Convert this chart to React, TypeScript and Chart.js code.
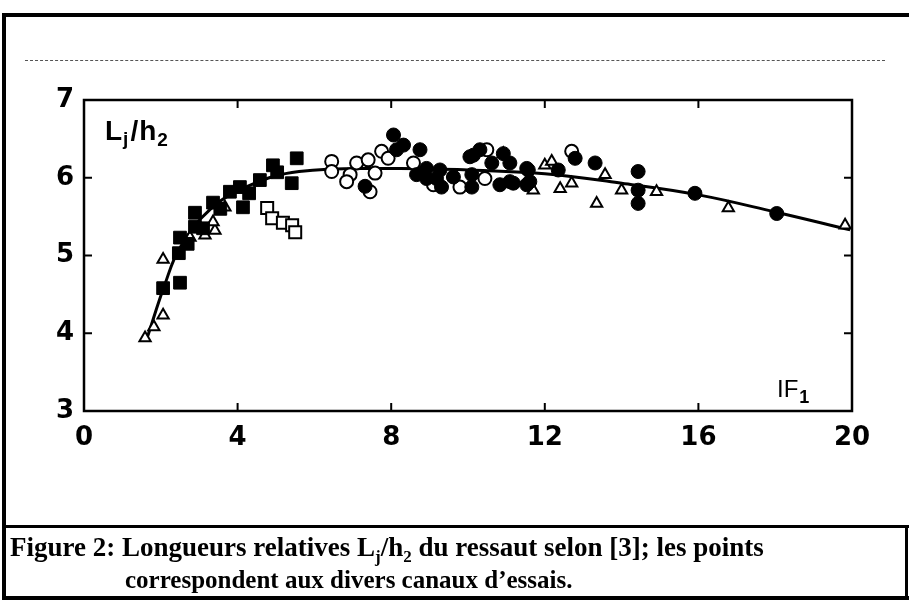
import React, { useEffect, useRef } from "react";
import { Chart, registerables } from "chart.js";
Chart.register(...registerables);

// ---- axis ticks ----
const X_MIN = 0, X_MAX = 20, X_STEP = 4;
const Y_MIN = 3, Y_MAX = 7, Y_STEP = 1;
const X_INNER_TICKS = [4, 8, 12, 16];
const Y_INNER_TICKS = [4, 5, 6];

// ---- fitted curve ----
const curveX = [1.65, 2.1, 2.5, 3.3, 4.3, 5.6, 8, 10, 12, 14, 16, 18, 19.95];
const curveY = [3.95, 4.62, 5.1, 5.6, 5.9, 6.08, 6.12, 6.1, 6.05, 5.93, 5.78, 5.56, 5.33];

// ---- open triangles ----
const triX = [1.59, 1.82, 2.06, 2.06, 2.76, 3.15, 3.41, 3.36, 3.67, 10.92, 12.0, 12.18, 11.7, 12.4, 12.7, 13.57, 13.35, 14.0, 14.91, 16.78, 19.82];
const triY = [3.94, 4.08, 4.23, 4.95, 5.23, 5.26, 5.32, 5.43, 5.62, 6.31, 6.16, 6.21, 5.84, 5.86, 5.93, 6.04, 5.67, 5.84, 5.82, 5.61, 5.39];

// ---- filled squares ----
const fsqX = [2.06, 2.5, 2.47, 2.5, 2.7, 2.89, 2.89, 3.1, 3.36, 3.55, 3.8, 4.06, 4.14, 4.3, 4.58, 4.92, 5.03, 5.41, 5.54];
const fsqY = [4.58, 4.65, 5.03, 5.23, 5.15, 5.37, 5.55, 5.35, 5.68, 5.6, 5.82, 5.88, 5.62, 5.8, 5.97, 6.16, 6.07, 5.93, 6.25];

// ---- open squares ----
const osqX = [4.77, 4.9, 5.18, 5.42, 5.5];
const osqY = [5.61, 5.48, 5.42, 5.39, 5.3];

// ---- open circles ----
const ocX = [6.45, 6.45, 7.1, 7.4, 6.93, 6.84, 7.58, 7.75, 7.92, 7.45, 8.58, 9.05, 9.1, 9.79, 10.44, 10.49, 12.7];
const ocY = [6.21, 6.08, 6.19, 6.23, 6.04, 5.95, 6.06, 6.34, 6.25, 5.82, 6.19, 6.04, 5.91, 5.88, 5.99, 6.36, 6.34];

// ---- filled circles ----
const fcX = [8.06, 8.32, 8.14, 8.75, 7.32, 8.66, 8.92, 8.92, 9.18, 9.27, 9.31, 9.62, 10.1, 10.14, 10.1, 10.05, 10.31, 10.62, 10.92, 11.09, 10.83, 11.18, 11.57, 11.61, 11.09, 11.53, 11.53, 12.35, 12.79, 13.31, 14.43, 14.43, 14.43, 15.91, 18.04];
const fcY = [6.55, 6.42, 6.36, 6.36, 5.89, 6.04, 6.12, 5.99, 5.99, 6.1, 5.88, 6.01, 6.04, 6.29, 5.88, 6.27, 6.36, 6.19, 6.31, 6.19, 5.91, 5.93, 6.1, 5.95, 5.95, 6.12, 5.91, 6.1, 6.25, 6.19, 6.08, 5.84, 5.67, 5.8, 5.54];

const pts = (xs: number[], ys: number[]) => xs.map((x, i) => ({ x, y: ys[i] }));

const framePlugin = {
  id: "frame",
  afterDraw(chart: any) {
    const { ctx, chartArea: a, scales } = chart;
    const sx = scales.x, sy = scales.y;
    ctx.save();
    ctx.strokeStyle = "#000";
    ctx.lineWidth = 2.5;
    ctx.strokeRect(a.left, a.top, a.right - a.left, a.bottom - a.top);
    ctx.lineWidth = 2;
    ctx.beginPath();
    for (const v of X_INNER_TICKS) {
      const px = sx.getPixelForValue(v);
      ctx.moveTo(px, a.bottom);
      ctx.lineTo(px, a.bottom - 8);
      ctx.moveTo(px, a.top);
      ctx.lineTo(px, a.top + 8);
    }
    for (const v of Y_INNER_TICKS) {
      const py = sy.getPixelForValue(v);
      ctx.moveTo(a.left, py);
      ctx.lineTo(a.left + 8, py);
      ctx.moveTo(a.right, py);
      ctx.lineTo(a.right - 8, py);
    }
    ctx.stroke();

    // y label  L_j / h_2
    ctx.fillStyle = "#000";
    ctx.textBaseline = "alphabetic";
    let x0 = a.left + 21;
    const base = a.top + 40;
    const big = "bold 28px 'Liberation Sans', Arial, sans-serif";
    const small = "bold 19px 'Liberation Sans', Arial, sans-serif";
    const parts: [string, string, number][] = [
      ["L", big, 0],
      ["j", small, 5],
      ["/", big, 0],
      ["h", big, 0],
      ["2", small, 6],
    ];
    for (const [t, f, dy] of parts) {
      ctx.font = f;
      ctx.fillText(t, x0, base + dy);
      x0 += ctx.measureText(t).width + (t === "j" ? 2 : 1);
    }

    // x label  IF_1
    let x1 = a.right - 75;
    const base2 = a.bottom - 14;
    ctx.font = "24px 'Liberation Sans', Arial, sans-serif";
    ctx.fillText("IF", x1, base2);
    x1 += ctx.measureText("IF").width + 1;
    ctx.font = "bold 18px 'Liberation Sans', Arial, sans-serif";
    ctx.fillText("1", x1, base2 + 6);
    ctx.restore();
  },
};

export default function App() {
  const ref = useRef<HTMLCanvasElement | null>(null);
  useEffect(() => {
    if (!ref.current) return;
    const tickFont = { family: "'DejaVu Sans', sans-serif", size: 26, weight: "bold" as const };
    const chart = new Chart(ref.current, {
      type: "scatter",
      data: {
        datasets: [
          {
            type: "line",
            label: "curve",
            data: pts(curveX, curveY),
            borderColor: "#000",
            borderWidth: 3,
            pointRadius: 0,
            tension: 0.4,
            fill: false,
            order: 10,
          } as any,
          {
            label: "open triangles",
            data: pts(triX, triY),
            pointStyle: "triangle",
            pointRadius: 6.5,
            backgroundColor: "#fff",
            borderColor: "#000",
            borderWidth: 2,
            order: 5,
          },
          {
            label: "filled squares",
            data: pts(fsqX, fsqY),
            pointStyle: "rect",
            pointRadius: 9,
            backgroundColor: "#000",
            borderColor: "#000",
            borderWidth: 1,
            order: 4,
          },
          {
            label: "open squares",
            data: pts(osqX, osqY),
            pointStyle: "rect",
            pointRadius: 8.5,
            backgroundColor: "#fff",
            borderColor: "#000",
            borderWidth: 2,
            order: 3,
          },
          {
            label: "open circles",
            data: pts(ocX, ocY),
            pointStyle: "circle",
            pointRadius: 6.5,
            backgroundColor: "#fff",
            borderColor: "#000",
            borderWidth: 2,
            order: 2,
          },
          {
            label: "filled circles",
            data: pts(fcX, fcY),
            pointStyle: "circle",
            pointRadius: 7,
            backgroundColor: "#000",
            borderColor: "#000",
            borderWidth: 1,
            order: 1,
          },
        ],
      },
      options: {
        responsive: false,
        animation: false,
        layout: { padding: { top: 100, right: 57, left: 0, bottom: 0 } },
        plugins: { legend: { display: false }, tooltip: { enabled: false }, title: { display: false } },
        scales: {
          x: {
            type: "linear",
            min: X_MIN,
            max: X_MAX,
            grid: { display: false, drawTicks: false },
            border: { display: false },
            ticks: { stepSize: X_STEP, color: "#000", font: tickFont, padding: 12, maxRotation: 0 },
            afterFit: (s: any) => { s.height = 603 - 411; },
          },
          y: {
            type: "linear",
            min: Y_MIN,
            max: Y_MAX,
            grid: { display: false, drawTicks: false },
            border: { display: false },
            ticks: { stepSize: Y_STEP, color: "#000", font: tickFont, padding: 10 },
            afterFit: (s: any) => { s.width = 84; },
          },
        },
      },
      plugins: [framePlugin],
    });
    return () => chart.destroy();
  }, []);

  const capFont: React.CSSProperties = {
    position: "absolute",
    fontFamily: "'Liberation Serif', 'Times New Roman', serif",
    fontWeight: "bold",
    lineHeight: "30px",
    whiteSpace: "nowrap",
    color: "#000",
  };

  return (
    <div style={{ position: "absolute", left: 0, top: 0, width: 909, height: 603, background: "#fff", overflow: "hidden" }}>
      <canvas ref={ref} width={909} height={603} style={{ position: "absolute", left: 0, top: 0 }} />
      {/* frame lines */}
      <div style={{ position: "absolute", left: 2, top: 13, width: 907, height: 4, background: "#000" }} />
      <div style={{ position: "absolute", left: 2, top: 13, width: 4, height: 587, background: "#000" }} />
      <div style={{ position: "absolute", left: 25, top: 60, width: 860, height: 0, borderTop: "1.5px dashed #555" }} />
      <div style={{ position: "absolute", left: 2, top: 525, width: 907, height: 3, background: "#000" }} />
      <div style={{ position: "absolute", left: 2, top: 596, width: 907, height: 4, background: "#000" }} />
      <div style={{ position: "absolute", left: 905, top: 525, width: 3, height: 75, background: "#000" }} />
      {/* caption */}
      <div style={{ ...capFont, fontSize: 27, left: 10, top: 532 }}>
        Figure 2: Longueurs relatives L<sub style={{ fontSize: 17 }}>j</sub>/h<sub style={{ fontSize: 17 }}>2</sub> du ressaut selon [3]; les points
      </div>
      <div style={{ ...capFont, fontSize: 25, left: 125, top: 565 }}>correspondent aux divers canaux d’essais.</div>
    </div>
  );
}
